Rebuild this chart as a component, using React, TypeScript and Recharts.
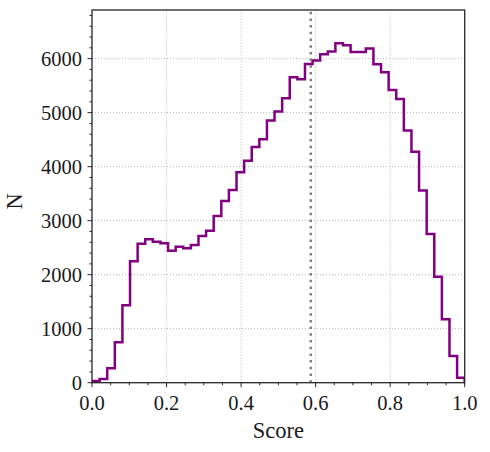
import React from 'react';
import { LineChart, Line, XAxis, YAxis, ReferenceLine } from 'recharts';

// Histogram counts, 49 equal bins over [0, 1]
const counts = [
  30, 70, 266, 748, 1433, 2248, 2574, 2655, 2611, 2580,
  2444, 2519, 2488, 2550, 2716, 2815, 3087, 3365, 3569, 3896,
  4111, 4365, 4506, 4852, 5019, 5267, 5655, 5619, 5900, 5963,
  6081, 6130, 6285, 6248, 6124, 6124, 6185, 5896, 5748, 5420,
  5254, 4667, 4278, 3556, 2753, 1963, 1174, 494, 93,
];

const threshold = 0.587;

const xMajorTicks = [0, 0.2, 0.4, 0.6, 0.8, 1.0];
const xAllTicks = [0, 0.05, 0.1, 0.15, 0.2, 0.25, 0.3, 0.35, 0.4, 0.45, 0.5, 0.55, 0.6, 0.65, 0.7, 0.75, 0.8, 0.85, 0.9, 0.95, 1.0];
const yMajorTicks = [0, 1000, 2000, 3000, 4000, 5000, 6000];
const yAllTicks = [0, 200, 400, 600, 800, 1000, 1200, 1400, 1600, 1800, 2000, 2200, 2400, 2600, 2800, 3000, 3200, 3400, 3600, 3800, 4000, 4200, 4400, 4600, 4800, 5000, 5200, 5400, 5600, 5800, 6000, 6200, 6400, 6600, 6800];
const yMax = 6900;

const nb = counts.length;
const data: { x: number; n: number }[] = [{ x: 0, n: 0 }];
counts.forEach((c, i) => data.push({ x: i / nb, n: c }));
data.push({ x: 1, n: counts[nb - 1] });
data.push({ x: 1, n: 0 });

const FONT = '"Liberation Serif", "Times New Roman", serif';
const SPINE = '#262626';

// plot-area geometry (chart coordinates)
const M = { top: 10, right: 25.3, bottom: 9.3, left: 12 };
const X_AXIS_H = 60;
const Y_AXIS_W = 80;
const W = 490;
const H = 452;
const plotL = M.left + Y_AXIS_W;
const plotT = M.top;
const plotW = W - M.right - plotL;
const plotH = H - M.bottom - X_AXIS_H - plotT;

const isXMajor = (v: number) => xMajorTicks.some((m) => Math.abs(m - v) < 1e-9);
const isYMajor = (v: number) => yMajorTicks.some((m) => Math.abs(m - v) < 1e-9);

const XTick = (props: any) => {
  const { x, y, payload } = props;
  const v = payload.value as number;
  const major = isXMajor(v);
  return (
    <g>
      <line x1={x} x2={x} y1={y} y2={y + (major ? 4.5 : 2.5)} stroke={SPINE} strokeWidth={1} />
      {major && (
        <text x={x} y={y + 27} textAnchor="middle" fontFamily={FONT} fontSize={20.5} fill="#1a1a1a">
          {v.toFixed(1)}
        </text>
      )}
    </g>
  );
};

const YTick = (props: any) => {
  const { x, y, payload } = props;
  const v = payload.value as number;
  const major = isYMajor(v);
  return (
    <g>
      <line x1={x - (major ? 4.5 : 2.5)} x2={x} y1={y} y2={y} stroke={SPINE} strokeWidth={1} />
      {major && (
        <text x={x - 10} y={y + 7} textAnchor="end" fontFamily={FONT} fontSize={20.5} fill="#1a1a1a">
          {String(v)}
        </text>
      )}
    </g>
  );
};

export default function App() {
  return (
    <div style={{ position: 'absolute', left: 0, top: 0, width: W, height: H, background: '#fff' }}>
      <LineChart width={W} height={H} data={data} margin={M}>
        <XAxis
          dataKey="x"
          type="number"
          domain={[0, 1]}
          ticks={xAllTicks}
          interval={0}
          tickSize={0}
          tickMargin={0}
          tickLine={false}
          height={X_AXIS_H}
          allowDataOverflow
          axisLine={false}
          tick={(p: any) => <XTick {...p} />}
        />
        <YAxis
          type="number"
          domain={[0, yMax]}
          ticks={yAllTicks}
          interval={0}
          tickSize={0}
          tickMargin={0}
          tickLine={false}
          width={Y_AXIS_W}
          allowDataOverflow
          axisLine={false}
          tick={(p: any) => <YTick {...p} />}
        />
        {xMajorTicks.slice(1, -1).map((v) => (
          <ReferenceLine key={'gx' + v} x={v} stroke="#b0b0b0" strokeWidth={0.9} strokeDasharray="1 2" />
        ))}
        {yMajorTicks.slice(1).map((v) => (
          <ReferenceLine key={'gy' + v} y={v} stroke="#b0b0b0" strokeWidth={0.9} strokeDasharray="1 2" />
        ))}
        <Line
          type="stepAfter"
          dataKey="n"
          stroke="#800080"
          strokeWidth={2.5}
          dot={false}
          activeDot={false}
          isAnimationActive={false}
        />
        <ReferenceLine x={threshold} stroke="#808080" strokeWidth={2.5} strokeDasharray="2.5 4.2" />
      </LineChart>
      <svg width={W} height={H} style={{ position: 'absolute', left: 0, top: 0, pointerEvents: 'none' }}>
        <rect x={plotL} y={plotT} width={plotW} height={plotH} fill="none" stroke={SPINE} strokeWidth={1.3} />
        <text x={plotL + plotW / 2} y={438} textAnchor="middle" fontFamily={FONT} fontSize={22.5} fill="#1a1a1a">
          Score
        </text>
        <text transform={`translate(21.5,${plotT + plotH / 2 + 5}) rotate(-90)`} textAnchor="middle" fontFamily={FONT} fontSize={22.5} fill="#1a1a1a">
          N
        </text>
      </svg>
    </div>
  );
}
